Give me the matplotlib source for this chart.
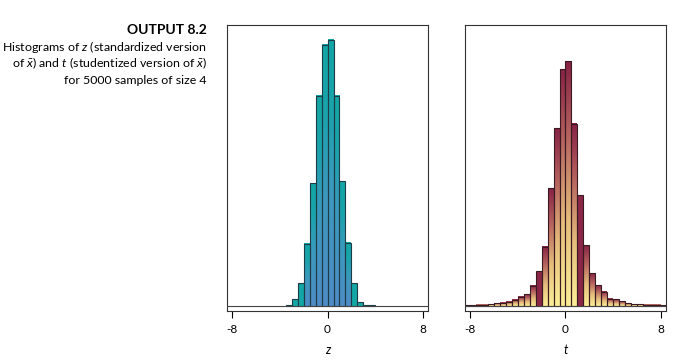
import numpy as np
import matplotlib
matplotlib.use("Agg")
from matplotlib import pyplot as plt
from matplotlib.colors import LinearSegmentedColormap

plt.rcParams['font.family'] = ['Lato', 'DejaVu Sans']
plt.rcParams['mathtext.fontset'] = 'custom'
plt.rcParams['mathtext.rm'] = 'Lato'
plt.rcParams['mathtext.it'] = 'Lato:italic'

# bin edges (width 0.5)
z_edges = np.arange(-3.5, 4.01, 0.5)
z_counts = [4, 24, 82, 225, 445, 762, 947, 965, 762, 452, 230, 82, 15, 5, 2]

t_edges = np.arange(-8.5, 8.51, 0.5)
t_counts = [2, 3, 4, 5, 7, 10, 12, 15, 22, 33, 42, 73, 128, 214, 427, 644, 858,
            887, 660, 403, 220, 118, 75, 51, 27, 24, 18, 10, 7, 6, 5, 4, 4, 3]

tick_vals = [-8, 0, 8]
tick_text = ['-8', '0', '8']

z_cmap = LinearSegmentedColormap.from_list(
    'zc', [(0, '#4f8cc6'), (0.45, '#3b99bd'), (0.75, '#19a4ab'), (1, '#12a6a5')])
t_cmap = LinearSegmentedColormap.from_list(
    't', [(0, '#fbef96'), (0.35, '#e6bd7c'), (0.7, '#b5625e'), (1, '#872345')])

grad = np.linspace(0, 1, 200).reshape(-1, 1)


def draw_hist(ax, edges, counts, cmap, solid, edge_col):
    for i, c in enumerate(counts):
        x0, x1 = edges[i], edges[i + 1]
        mid = (x0 + x1) / 2
        if solid(mid):
            ax.bar(x0, c, width=x1 - x0, align='edge', color=solid(mid),
                   edgecolor=edge_col, linewidth=0.8, zorder=2)
        else:
            ax.imshow(grad, extent=[x0, x1, 0, c], origin='lower', aspect='auto',
                      cmap=cmap, zorder=1, interpolation='bilinear')
            ax.bar(x0, c, width=x1 - x0, align='edge', fill=False,
                   edgecolor=edge_col, linewidth=0.8, zorder=2)
    ax.axhline(0, color='#444444', lw=0.8, zorder=3)
    ax.set_xlim(-8.4, 8.4)
    ax.set_ylim(-18, 1019)
    ax.set_yticks([])
    ax.set_xticks(tick_vals)
    ax.set_xticklabels(tick_text)
    ax.tick_params(axis='x', direction='out', length=5, width=0.8, labelsize=8.5, pad=4)
    for s in ax.spines.values():
        s.set_color('#333333')
        s.set_linewidth(0.8)


def z_solid(m):
    return '#12a6a5' if abs(m) > 2 else None


def t_solid(m):
    return '#8a2646' if m in (-2.25, 1.25) else None


fig = plt.figure(figsize=(6.83, 3.6), dpi=100)
ax1 = fig.add_axes([0.3324, 0.1361, 0.2943, 0.7944])
ax2 = fig.add_axes([0.6808, 0.1361, 0.2943, 0.7944])

draw_hist(ax1, z_edges, z_counts, z_cmap, z_solid, '#1d3c48')
draw_hist(ax2, t_edges, t_counts, t_cmap, t_solid, '#3a1a22')
ax1.set_xlabel('z', style='italic', fontsize=9, labelpad=7)
ax2.set_xlabel('t', style='italic', fontsize=9, labelpad=7)

xr = 207 / 683
fig.text(xr, 1 - 30 / 360, 'OUTPUT 8.2', ha='right', va='center',
         fontsize=10, fontweight='bold')
lines = ['Histograms of $z$ (standardized version',
         r'of $\bar{x}$) and $t$ (studentized version of $\bar{x}$)',
         'for 5000 samples of size 4']
for k, ln in enumerate(lines):
    fig.text(xr, 1 - (47 + 16.5 * k) / 360, ln, ha='right', va='center', fontsize=8.95)

fig.savefig('out.png', dpi=100)
